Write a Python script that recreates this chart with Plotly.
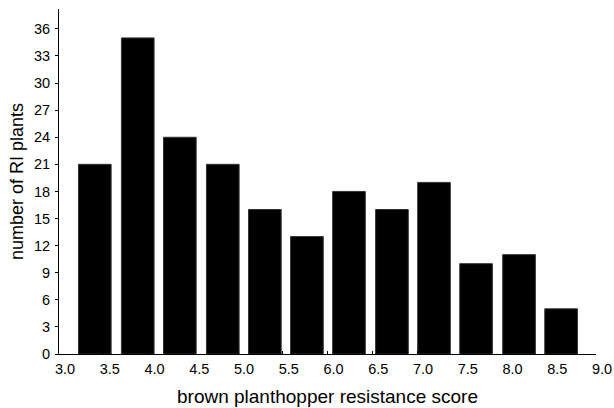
import plotly.graph_objects as go

# Bin centers (resistance score) and counts
bin_centers = [3.40, 3.88, 4.35, 4.83, 5.30, 5.77, 6.24, 6.72, 7.19, 7.66, 8.14, 8.61]
counts = [21, 35, 24, 21, 16, 13, 18, 16, 19, 10, 11, 5]
bar_width = 0.365

x_ticks = [3.0, 3.5, 4.0, 4.5, 5.0, 5.5, 6.0, 6.5, 7.0, 7.5, 8.0, 8.5, 9.0]
y_ticks = [0, 3, 6, 9, 12, 15, 18, 21, 24, 27, 30, 33, 36]

fig = go.Figure(
    go.Bar(
        x=bin_centers,
        y=counts,
        width=[bar_width] * len(bin_centers),
        marker=dict(color="black", line=dict(color="#333333", width=1)),
    )
)

font = "Liberation Sans, Arial, sans-serif"
fig.update_layout(
    width=614,
    height=408,
    margin=dict(l=59, r=18, t=9, b=54, autoexpand=False),
    paper_bgcolor="white",
    plot_bgcolor="white",
    showlegend=False,
    font=dict(family=font, color="black", size=14.5),
)
fig.update_xaxes(
    range=[3.0, 9.0],
    tickvals=x_ticks,
    ticktext=[f"{v:.1f}" for v in x_ticks],
    ticks="inside",
    ticklen=3,
    tickcolor="black",
    showline=True,
    linecolor="black",
    linewidth=1,
    showgrid=False,
    zeroline=False,
    automargin=False,
    tickfont=dict(size=14.5, family=font),
    ticklabelshift=6,
    ticklabeloverflow="allow",
    ticklabelstandoff=2,
    title=dict(text="brown planthopper resistance score", font=dict(size=19, family=font), standoff=13),
)
fig.update_yaxes(
    range=[0, 38.2],
    tickvals=y_ticks,
    ticks="outside",
    ticklen=3,
    tickcolor="black",
    showline=True,
    linecolor="black",
    linewidth=1,
    showgrid=False,
    zeroline=False,
    automargin=False,
    tickfont=dict(size=14.5, family=font),
    ticklabelstandoff=2,
    title=dict(text="number of RI plants", font=dict(size=18, family=font), standoff=5),
)

fig.write_html(
    "out.html",
    config={"displayModeBar": False},
    post_script="document.body.style.margin='0';document.body.style.overflow='hidden';",
)
